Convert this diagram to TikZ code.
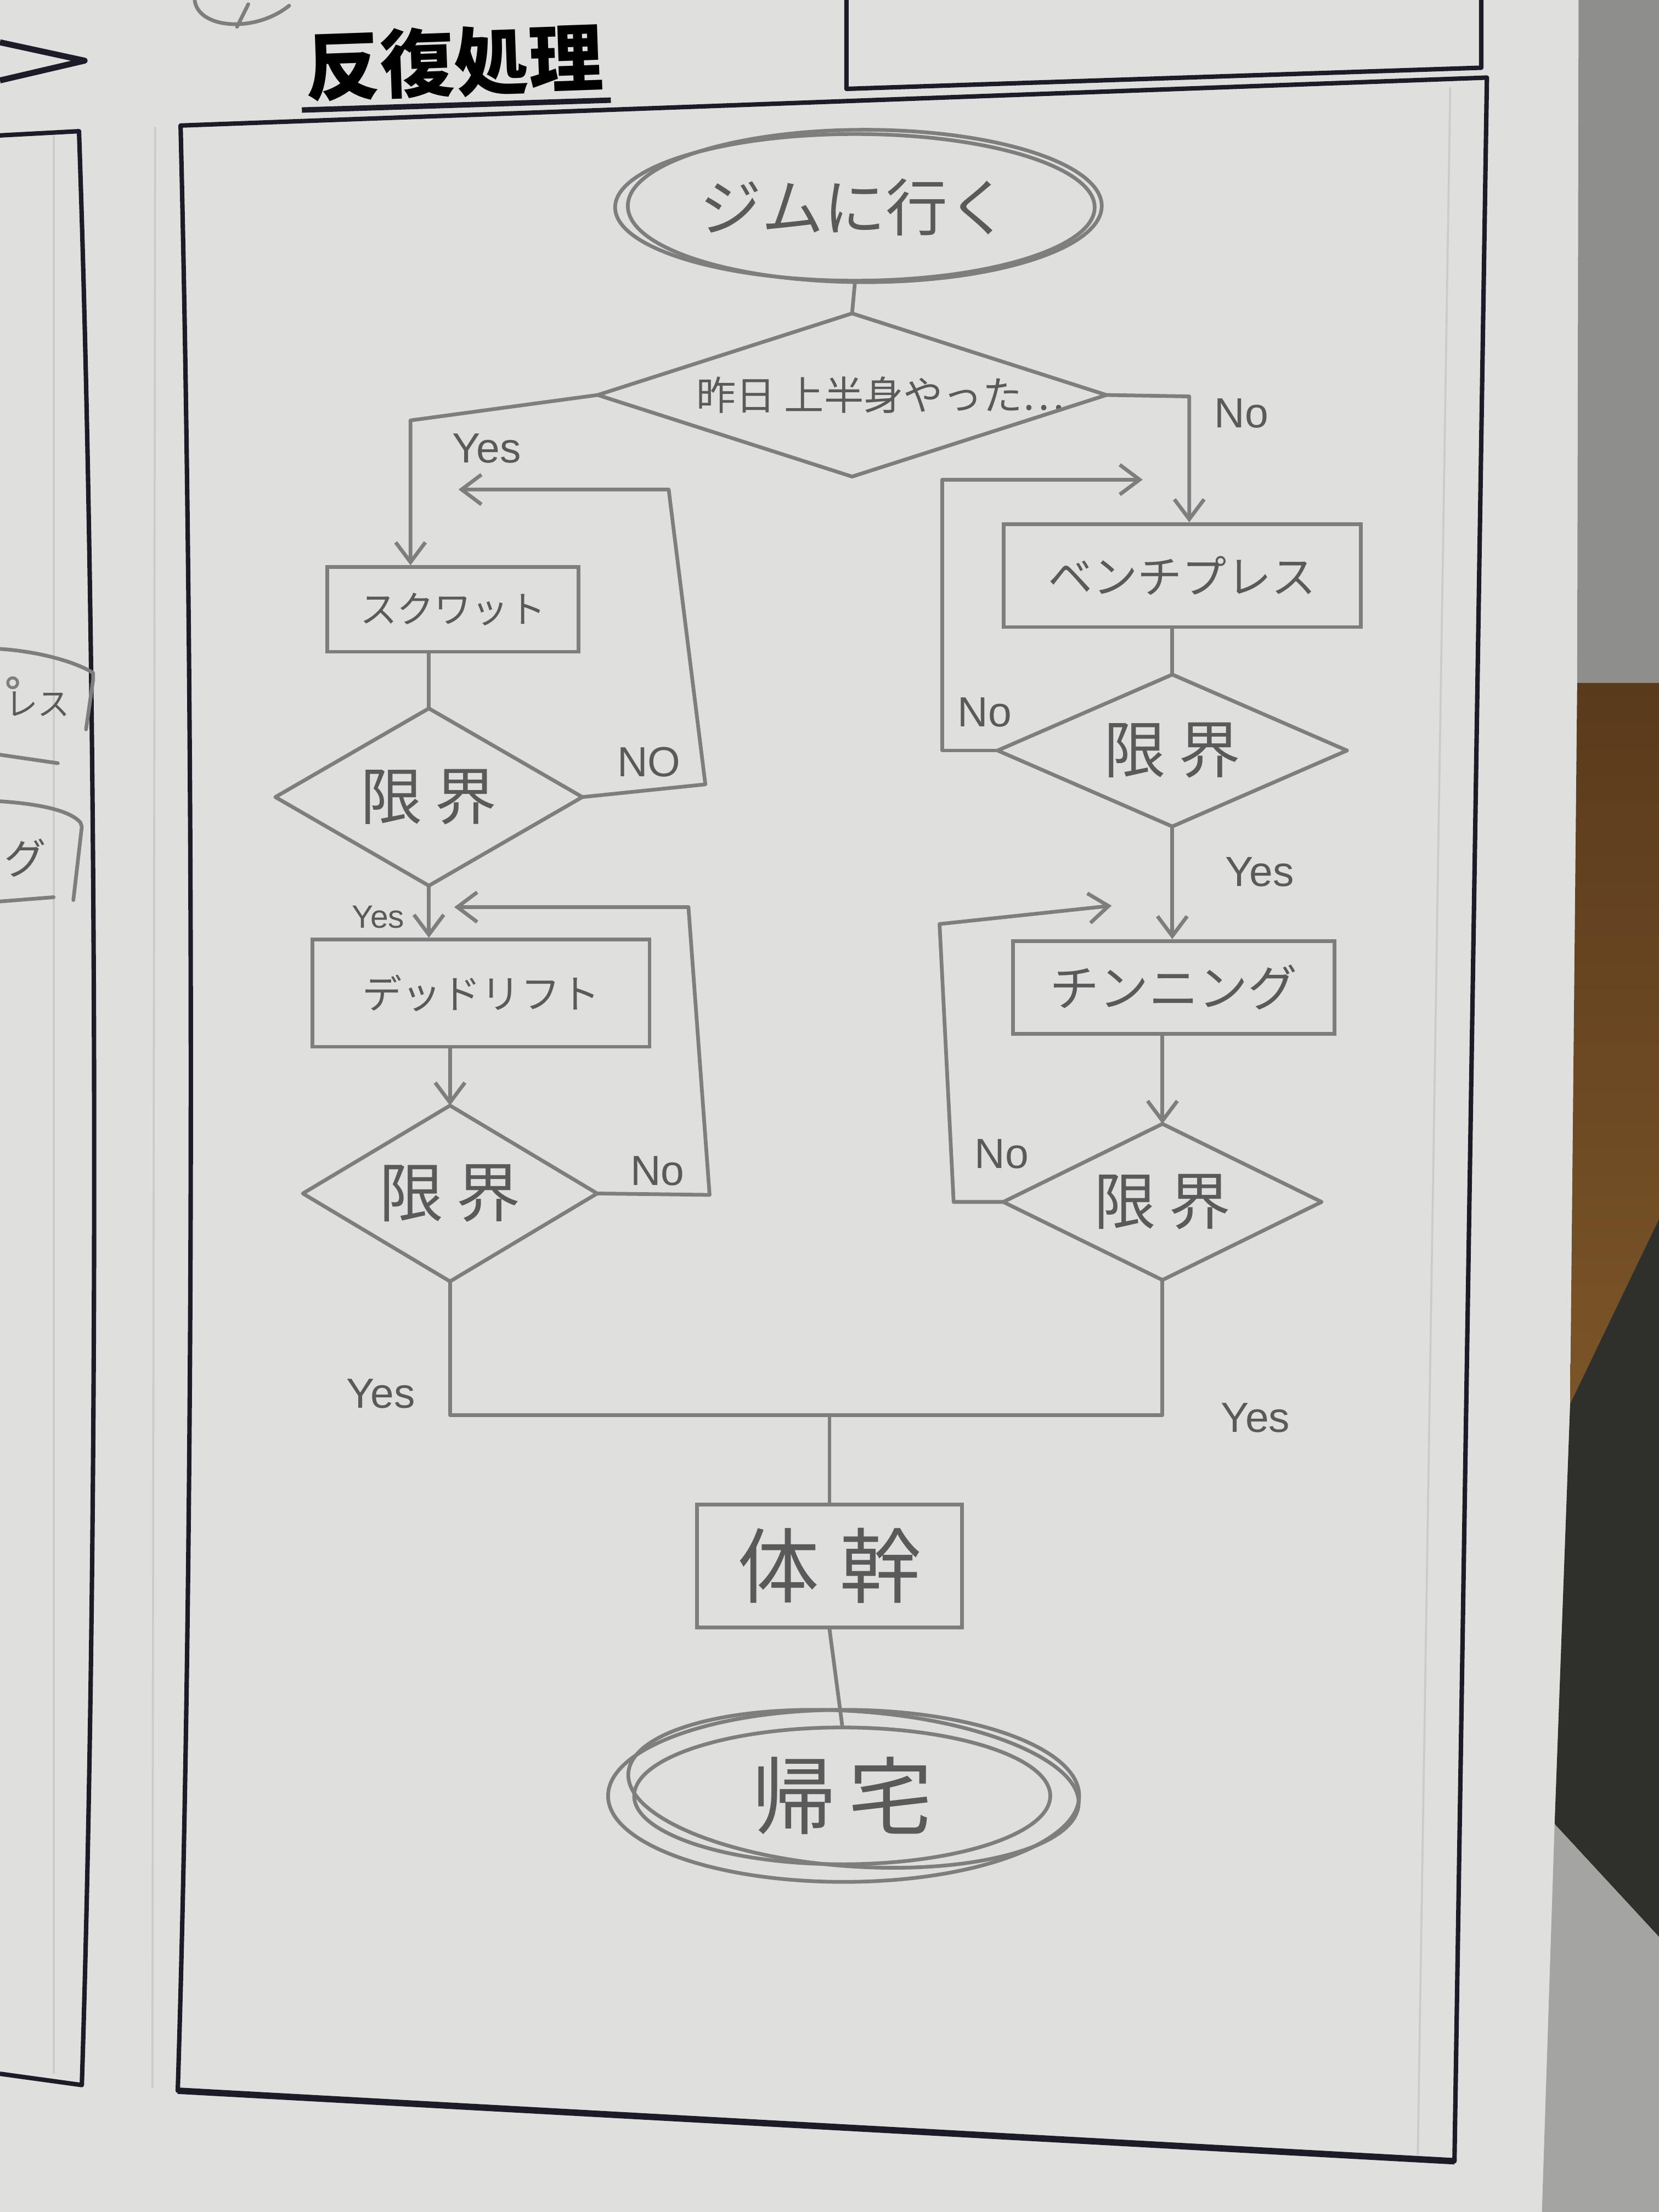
\documentclass[tikz,border=0pt]{standalone}
\usepackage{fontspec}
\usetikzlibrary{arrows.meta,shapes.geometric}
\setmainfont{Liberation Sans}
\newfontfamily\jp{Noto Sans CJK JP}
\newcommand\myfs[1]{\fontsize{#1}{#1}\selectfont}
\definecolor{paper}{HTML}{DFDFDD}
\definecolor{pencil}{HTML}{7E7E7E}
\definecolor{pencilt}{HTML}{5A5A5A}
\definecolor{ink}{HTML}{1C1C28}
\definecolor{faint}{HTML}{CBCBCB}
\definecolor{bggray}{HTML}{8E8E8C}
\definecolor{woodtop}{HTML}{5A3A1C}
\definecolor{woodmid}{HTML}{7B5528}
\definecolor{darkbg}{HTML}{2F302C}
\definecolor{lightbg}{HTML}{A4A4A2}
\begin{document}
\begin{tikzpicture}[x=0.02cm,y=-0.02cm,
  line/.style={draw=pencil,line width=1.5pt,line join=round,line cap=round},
  arr/.style={line,-{Straight Barb[length=8pt,width=12pt]}},
  box/.style={rectangle,draw=pencil,line width=1.5pt,inner sep=0pt,text=pencilt},
  dec/.style={rectangle,inner sep=0pt,text=pencilt},
  term/.style={ellipse,draw=pencil,line width=1.5pt,inner sep=0pt,text=pencilt},
  lab/.style={text=pencilt,font=\myfs{17},inner sep=0pt},
  frame/.style={draw=ink,line width=1.8pt,line join=round},
  faintline/.style={draw=faint,line width=0.8pt}
]
% page and background
\useasboundingbox (0,0) rectangle (1176,1568);
\fill[paper] (0,0) rectangle (1176,1568);
\fill[bggray] (1119,0) -- (1176,0) -- (1176,484) -- (1118,484) -- cycle;
\shade[top color=woodtop,bottom color=woodmid] (1118,484) -- (1176,484) -- (1176,864) -- (1113,995) -- cycle;
\fill[darkbg] (1113,995) -- (1176,864) -- (1176,1373) -- (1102,1293) -- cycle;
\fill[lightbg] (1102,1293) -- (1176,1373) -- (1176,1568) -- (1093,1568) -- cycle;

% printed worksheet
\draw[faintline] (38,96) -- (38,1470);
\draw[faintline] (110,90) -- (108,1480);
\draw[faintline] (1028,62) -- (1005,1528);
\draw[frame] (0,96) -- (56,93) .. controls (70,500) and (70,1100) .. (58,1478) -- (0,1470);
\draw[frame] (128,89) -- (1054,55) -- (1031,1532) -- (126,1482) .. controls (138,1100) and (138,500) .. (128,89) -- cycle;
\draw[frame,line width=2.6pt] (1031,1532) -- (126,1482);
\draw[frame] (600,0) -- (600,63) -- (1050,48) -- (1050,0);
\draw[frame,line width=2.4pt] (0,30) -- (60,43) -- (0,57);
\node[font=\jp\bfseries\myfs{30},text=black,rotate=2,inner sep=0pt] (title) at (322,44) {反復処理};
\draw[ink,line width=2.2pt] (214,78) -- (433,71);

% scribble at top and neighbour column
\draw[line] (138,0) .. controls (140,20) and (180,24) .. (205,4);
\draw[line] (176,3) -- (168,19);
\node[text=pencilt,font=\jp\myfs{13},anchor=east,inner sep=0pt] (prevA) at (50,499) {レス};
\draw[line,line width=1.2pt] (9,484) circle [radius=0.07cm];
\node[text=pencilt,font=\jp\myfs{17},inner sep=0pt] (prevB) at (18,608) {グ};
\draw[line] (0,460) .. controls (30,462) and (55,470) .. (66,477) -- (66,482) -- (61,517);
\draw[line] (0,535) -- (41,541);
\draw[line] (0,568) .. controls (30,570) and (50,575) .. (57,583) -- (58,586) -- (52,638);
\draw[line] (0,639) -- (38,636);

% flowchart nodes
\node[term,minimum width=6.8cm,minimum height=2.08cm,font=\jp\myfs{25}] (start) at (606,147) {ジムに行く};
\draw[line] (613,146) ellipse [x radius=3.36cm, y radius=1.08cm];

\node[dec,minimum width=7.2cm,minimum height=2.3cm,font=\jp\myfs{16}] (d1) at (604,280) {\hspace*{0.8cm}昨日 上半身やった…};

\node[box,minimum width=3.56cm,minimum height=1.2cm,font=\jp\myfs{15}] (sq) at (321,432) {スクワット};
\node[dec,minimum width=4.34cm,minimum height=2.5cm,font=\jp\myfs{25}] (d2) at (304,565) {限\hspace{0.2em}界};
\node[box,minimum width=4.78cm,minimum height=1.52cm,font=\jp\myfs{16}] (dl) at (341,704) {デッドリフト};
\node[dec,minimum width=4.16cm,minimum height=2.48cm,font=\jp\myfs{26}] (d3) at (319,846) {限\hspace{0.2em}界};

\node[box,minimum width=5.06cm,minimum height=1.46cm,font=\jp\myfs{18}] (bp) at (838,408) {ベンチプレス};
\node[dec,minimum width=4.94cm,minimum height=2.14cm,font=\jp\myfs{25}] (d4) at (831,532) {限\hspace{0.2em}界};
\node[box,minimum width=4.56cm,minimum height=1.32cm,font=\jp\myfs{20}] (ch) at (832,700) {チンニング};
\node[dec,minimum width=4.5cm,minimum height=2.2cm,font=\jp\myfs{25}] (d5) at (824,852) {限\hspace{0.2em}界};

\node[box,minimum width=3.76cm,minimum height=1.74cm,font=\jp\myfs{33}] (tk) at (588,1110) {体\hspace{0.25em}幹};
\node[term,minimum width=5.9cm,minimum height=1.94cm,font=\jp\myfs{34}] (end) at (597,1273) {帰\hspace{0.15em}宅};
\draw[line] (598,1273) ellipse [x radius=3.34cm, y radius=1.22cm];
\draw[line,rotate around={-4:(605,1268)}] (605,1268) ellipse [x radius=3.2cm, y radius=1.1cm];

\foreach \d in {d1,d2,d3,d4,d5}
  \draw[line] (\d.north) -- (\d.east) -- (\d.south) -- (\d.west) -- cycle;

% labels
\node[lab] (lyes1) at (345,318) {Yes};
\node[lab] (lno1) at (880,293) {No};
\node[lab] (lno2) at (460,540) {NO};
\node[lab,font=\myfs{13}] (lyes2) at (268,650) {Yes};
\node[lab] (lno3) at (466,830) {No};
\node[lab] (lyes3) at (270,988) {Yes};
\node[lab] (lno4) at (698,505) {No};
\node[lab] (lyes4) at (893,618) {Yes};
\node[lab] (lno5) at (710,818) {No};
\node[lab] (lyes5) at (890,1005) {Yes};

% connectors
\draw[line] (start.south) -- (d1.north);
\coordinate (yesL) at (291,298);
\draw[arr] (d1.west) -- (yesL) -- (yesL |- sq.north);
\coordinate (noR) at (843,281);
\draw[arr] (d1.east) -- (noR) -- (noR |- bp.north);

\draw[line] (sq.south -| d2.north) -- (d2.north);
\coordinate (l1a) at (500,556);
\coordinate (l1b) at (474,347);
\coordinate (l1t) at (325,347);
\draw[arr] (d2.east) -- (l1a) -- (l1b) -- (l1t);
\draw[arr] (d2.south) -- (d2.south |- dl.north);
\draw[arr] (dl.south -| d3.north) -- (d3.north);
\coordinate (l2a) at (503,847);
\coordinate (l2b) at (488,643);
\coordinate (l2t) at (322,643);
\draw[arr] (d3.east) -- (l2a) -- (l2b) -- (l2t);

\draw[line] (bp.south -| d4.north) -- (d4.north);
\coordinate (r1a) at (668,532);
\coordinate (r1b) at (668,340);
\coordinate (r1t) at (810,340);
\draw[arr] (d4.west) -- (r1a) -- (r1b) -- (r1t);
\draw[arr] (d4.south) -- (d4.south |- ch.north);
\draw[arr] (ch.south -| d5.north) -- (d5.north);
\coordinate (r2a) at (676,852);
\coordinate (r2b) at (666,655);
\coordinate (r2t) at (788,642);
\draw[arr] (d5.west) -- (r2a) -- (r2b) -- (r2t);

\coordinate (mY) at (0,1003);
\draw[line] (d3.south) -- (d3.south |- mY) -- (d5.south |- mY) -- (d5.south);
\draw[line] (tk.north |- mY) -- (tk.north);
\draw[line] (tk.south) -- (end.north);
\end{tikzpicture}
\end{document}
